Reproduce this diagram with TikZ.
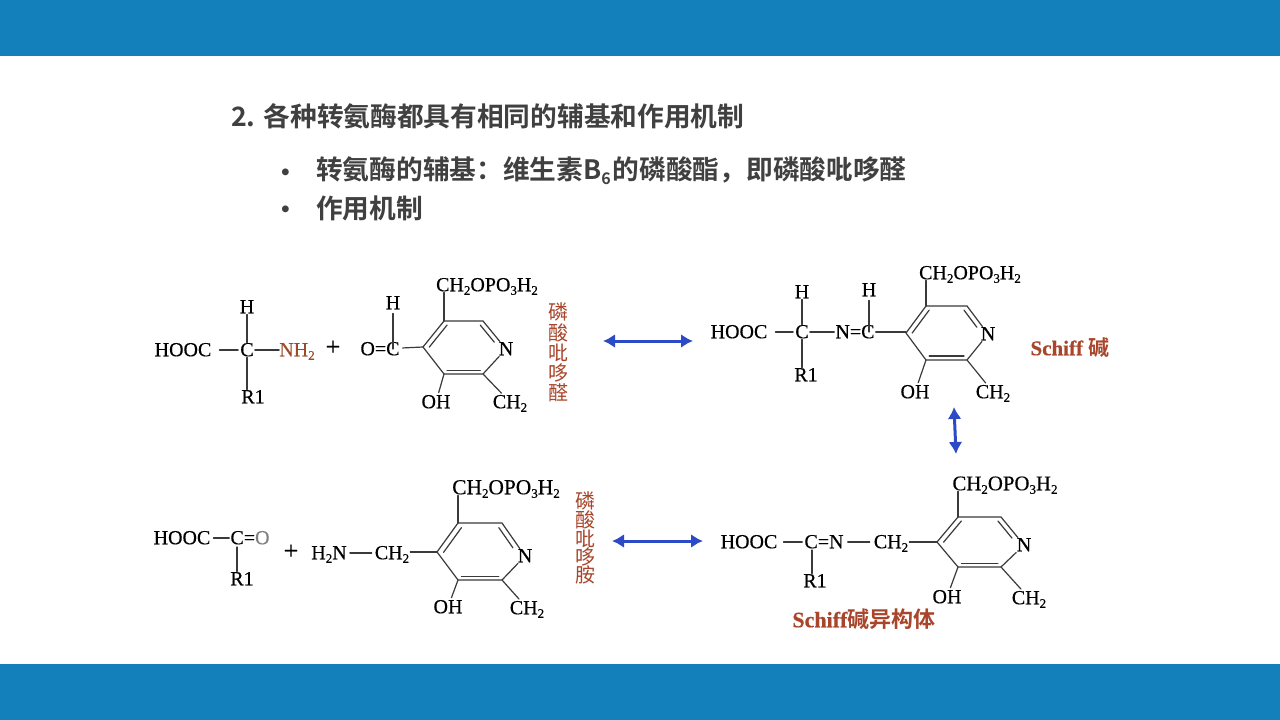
\documentclass[tikz,border=0pt]{standalone}
\usepackage{fontspec}
\usetikzlibrary{calc,arrows.meta}
\setmainfont{Liberation Serif}
\newfontfamily\chemf{Liberation Serif}[FakeBold=0.4]
\newfontfamily\cjkb{Noto Sans CJK SC Bold}
\newfontfamily\cjkr{Noto Sans CJK SC}
\definecolor{barblue}{HTML}{137FBB}
\definecolor{titlegrey}{HTML}{404040}
\definecolor{brownred}{HTML}{A8452A}
\definecolor{nhbrown}{HTML}{9C4A28}
\definecolor{arrowblue}{HTML}{2C4AC6}
\definecolor{bondgrey}{HTML}{3A3A3A}
\newcommand{\chs}[1]{\raisebox{-3.5pt}{\fontsize{13}{13}\selectfont #1}}
\newcommand{\CHtwo}{CH\chs{2}}
\newcommand{\CHP}{CH\chs{2}OPO\chs{3}H\chs{2}}
\newcommand{\pyr}[8]{% prefix, xL, yL, xTL, xTR, yT, yB, N-node
  \coordinate (#1L) at (#2,#3);
  \coordinate (#1TL) at (#4,#6);
  \coordinate (#1TR) at (#5,#6);
  \coordinate (#1BR) at (#5,#7);
  \coordinate (#1BL) at (#4,#7);
  \coordinate (#1M) at ($(#1L)!.5!(#8)$);
  \draw[bond] (#1L) -- (#1TL) -- (#1TR) -- (#8);
  \draw[bond] (#8) -- (#1BR) -- (#1BL) -- (#1L);
  \draw[bond] ($(#1L)!.15!(#1M)$) -- ($(#1TL)!.15!(#1M)$);
  \draw[bond] ($(#1BL)!.15!(#1M)$) -- ($(#1BR)!.15!(#1M)$);
  \draw[bond] ($(#1TR)!.15!(#1M)$) -- ($($(#1TR)!.72!(#8.center)$)!.15!(#1M)$);
}
\tikzset{
  x=1pt,y=-1pt,
  atom/.style={font=\chemf\fontsize{20}{20}\selectfont,text=black,inner sep=1pt,text height=12.5pt,text depth=0pt,anchor=center},
  bond/.style={draw=bondgrey,line width=1.2pt,line join=miter,line cap=round},
  biarrow/.style={draw=arrowblue,line width=3pt,{Latex[length=12pt,width=14pt]}-{Latex[length=12pt,width=14pt]}},
  vlabel/.style={font=\cjkr\fontsize{20}{20}\selectfont,text=brownred,inner sep=0pt},
  heading/.style={font=\cjkb\fontsize{26.7}{30}\selectfont,text=titlegrey,inner sep=0pt,anchor=west},
  bar/.style={fill=barblue,draw=none},
}
\begin{document}
\begin{tikzpicture}
\useasboundingbox (0,0) rectangle (1280,720);
\fill[white] (0,0) rectangle (1280,720);
\fill[bar] (0,0) rectangle (1280,56);
\fill[bar] (0,664) rectangle (1280,720);

\node[heading] (title) at (231,116) {2. 各种转氨酶都具有相同的辅基和作用机制};
\node[heading] (bul1) at (272,176) {•};
\node[heading] (line1) at (316,171) {转氨酶的辅基：维生素B\raisebox{-5pt}{\fontsize{16}{16}\selectfont 6}\hspace{2pt}的磷酸酯，即磷酸吡哆醛};
\node[heading] (bul2) at (272,213) {•};
\node[heading] (line2) at (316,208) {作用机制};

% ---------- structure 1
\node[atom] (a1) at (183,350) {HOOC};
\node[atom] (c1) at (247,350) {C};
\node[atom,text=nhbrown] (n1) at (297,350) {NH\chs{2}};
\node[atom] (h1) at (247,307) {H};
\node[atom] (r1) at (253,397) {R1};
\node[atom,font=\chemf\fontsize{26}{26}\selectfont] (p1) at (333,349) {+};
\node[atom] (oc1) at (380,349) {O=C};
\coordinate (occ1) at (393,349);
\node[atom] (h1b) at (393,303) {H};
\node[atom] (top1) at (487,285) {\CHP};
\node[atom] (nn1) at (506,349) {N};
\node[atom] (oh1) at (436,402) {OH};
\node[atom] (me1) at (510,402) {\CHtwo};
\pyr{A}{423}{347}{444}{483}{321}{374}{nn1}
\draw[bond,shorten <=7pt,shorten >=1pt] (a1) -- (c1);
\draw[bond,shorten >=-1pt] (c1) -- (n1);
\draw[bond] (h1) -- (c1);
\draw[bond] (c1) -- (c1 |- r1.north);
\draw[bond,shorten <=3pt] (h1b) -- (occ1);
\draw[bond,shorten <=2pt] (oc1) -- (AL);
\draw[bond] (top1.south -| ATL) -- (ATL);
\draw[bond,shorten >=2pt] (ABL) -- (oh1);
\draw[bond,shorten >=2pt] (ABR) -- (me1);
\node[vlabel] (v11) at (558,312) {磷};
\node[vlabel] (v12) at (558,333) {酸};
\node[vlabel] (v13) at (558,353) {吡};
\node[vlabel] (v14) at (558,373) {哆};
\node[vlabel] (v15) at (558,393) {醛};

% ---------- structure 2
\node[atom] (a2) at (739,332) {HOOC};
\node[atom] (c2) at (802,332) {C};
\node[atom] (nc2) at (855,332) {N=C};
\coordinate (ncc2) at (869,332);
\node[atom] (h2) at (802,292) {H};
\node[atom] (h2b) at (869,290) {H};
\node[atom] (r2) at (806,375) {R1};
\node[atom] (top2) at (970,273) {\CHP};
\node[atom] (nn2) at (988,334) {N};
\node[atom] (oh2) at (915,392) {OH};
\node[atom] (me2) at (993,392) {\CHtwo};
\pyr{B}{906}{333}{926}{967}{306}{360}{nn2}
\draw[bond,shorten <=7pt,shorten >=1pt] (a2) -- (c2);
\draw[bond] (c2) -- (nc2);
\draw[bond] (h2) -- (c2);
\draw[bond,shorten <=3pt] (h2b) -- (ncc2);
\draw[bond] (c2) -- (c2 |- r2.north);
\draw[bond] (nc2) -- (nc2 -| BL);
\draw[bond] (top2.south -| BTL) -- (BTL);
\draw[bond,shorten >=2pt] (BBL) -- (oh2);
\draw[bond,shorten >=2pt] (BBR) -- (me2);
\node[atom,font=\chemf\fontsize{21}{21}\selectfont,text=brownred] (sb) at (1070,349) {\textbf{Schiff} {\cjkb 碱}};

% ---------- structure 3
\node[atom] (a3) at (182,538) {HOOC};
\node[atom] (co3) at (250,538) {C=\textcolor{gray}{O}};
\coordinate (cc3) at (237,538);
\node[atom] (r3) at (242,579) {R1};
\node[atom,font=\chemf\fontsize{26}{26}\selectfont] (p3) at (291,553) {+};
\node[atom] (h3) at (329,553) {H\chs{2}N};
\node[atom] (m3) at (392,553) {\CHtwo};
\node[atom,font=\chemf\fontsize{21.4}{21.4}\selectfont] (top3) at (506,488) {\CHP};
\node[atom] (nn3) at (525,556) {N};
\node[atom] (oh3) at (448,607) {OH};
\node[atom] (me3) at (527,608) {\CHtwo};
\pyr{C}{437}{552}{458}{502}{523}{580}{nn3}
\draw[bond,shorten <=2pt] (a3) -- (co3);
\draw[bond] (cc3) ++(0,9) -- (cc3 |- r3.north);
\draw[bond,shorten <=2pt,shorten >=2pt] (h3) -- (m3);
\draw[bond] (m3.east |- CL) -- (CL);
\draw[bond] (top3.south -| CTL) -- (CTL);
\draw[bond,shorten >=2pt] (CBL) -- (oh3);
\draw[bond,shorten >=2pt] (CBR) -- (me3);
\node[vlabel] (v31) at (585,501) {磷};
\node[vlabel] (v32) at (585,520) {酸};
\node[vlabel] (v33) at (585,539) {吡};
\node[vlabel] (v34) at (585,557) {哆};
\node[vlabel] (v35) at (585,575) {胺};

% ---------- structure 4
\node[atom] (a4) at (749,542) {HOOC};
\node[atom] (cn4) at (824,542) {C=N};
\coordinate (cc4) at (812,542);
\node[atom] (r4) at (815,581) {R1};
\node[atom] (m4) at (891,542) {\CHtwo};
\node[atom,font=\chemf\fontsize{20.8}{20.8}\selectfont] (top4) at (1005,484) {\CHP};
\node[atom] (nn4) at (1024,545) {N};
\node[atom] (oh4) at (947,597) {OH};
\node[atom] (me4) at (1029,598) {\CHtwo};
\pyr{D}{937}{542}{958}{1001}{517}{567}{nn4}
\draw[bond,shorten <=5pt,shorten >=1pt] (a4) -- (cn4);
\draw[bond] (cc4) ++(0,8) -- (cc4 |- r4.north);
\draw[bond,shorten <=3pt,shorten >=3pt] (cn4) -- (m4);
\draw[bond] (m4) -- (DL);
\draw[bond] (top4.south -| DTL) -- (DTL);
\draw[bond,shorten >=2pt] (DBL) -- (oh4);
\draw[bond,shorten >=2pt] (DBR) -- (me4);
\node[atom,font=\chemf\fontsize{22}{22}\selectfont,text=brownred] (si) at (864,621) {\textbf{Schiff}{\cjkb 碱异构体}};

% ---------- equilibrium arrows
\coordinate (e1a) at (603,341); \coordinate (e1b) at (693,341);
\coordinate (e2a) at (954,407); \coordinate (e2b) at (956,454);
\coordinate (e3a) at (612,541); \coordinate (e3b) at (703,541);
\draw[biarrow] (e1a) -- (e1b);
\draw[biarrow] (e2a) -- (e2b);
\draw[biarrow] (e3a) -- (e3b);
\end{tikzpicture}
\end{document}
